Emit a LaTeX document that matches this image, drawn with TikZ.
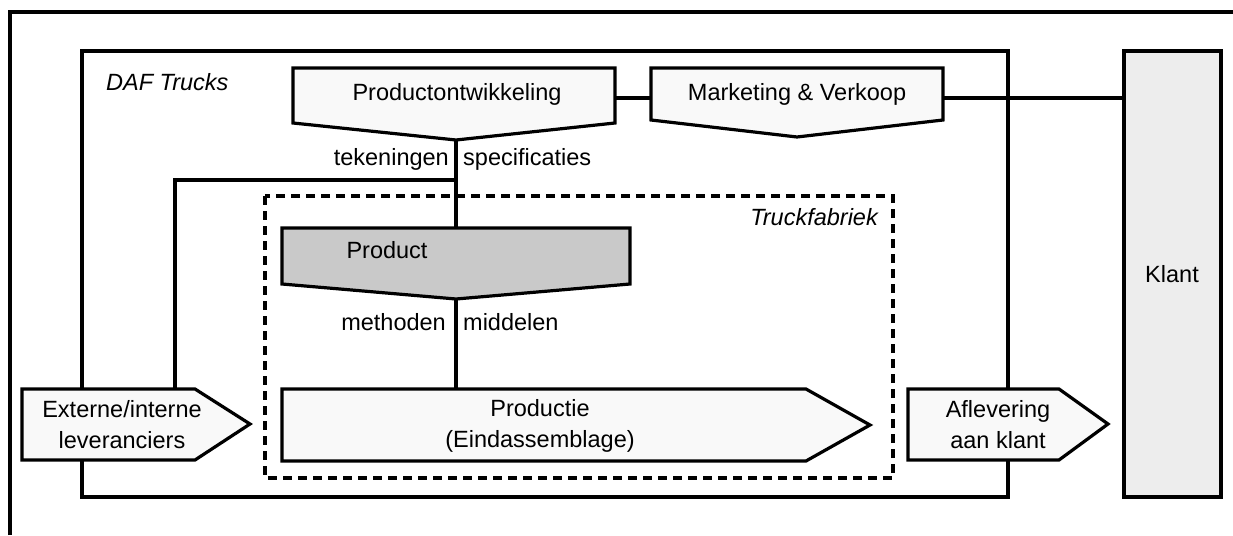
\documentclass[tikz,border=0pt]{standalone}
\usepackage{fontspec}
\setmainfont{Liberation Sans}
\begin{document}
\begin{tikzpicture}[x=1pt,y=-1pt,
  thick line/.style={line width=3.2pt},
  boxline/.style={line width=3.2pt, line join=miter},
  lightfill/.style={boxline, fill=gray!5},
  darkfill/.style={boxline, fill=gray!42},
  klantfill/.style={boxline, fill=gray!14},
  zone/.style={line width=3.2pt, dash pattern=on 9pt off 6pt},
  txt/.style={font=\fontsize{23.5}{31}\selectfont, inner sep=0pt, align=center},
  itxt/.style={txt, font=\fontsize{23.5}{31}\selectfont\itshape}]
\useasboundingbox (0,0) rectangle (1233,535);

% outer frame (top and left edge)
\draw[thick line] (10,535) -- (10,12) -- (1233,12);

% DAF Trucks company boundary
\draw[boxline] (82,51) rectangle (1008,497);
\node[itxt, anchor=base west] (daf) at (106,90) {DAF Trucks};

% factory boundary
\draw[zone] (265,196) rectangle (893,478);
\node[itxt, anchor=base east] (fab) at (878,225) {Truckfabriek};

% named anchor points of the shapes
\coordinate (po-tip) at (456,140);
\coordinate (po-r) at (615,98);
\coordinate (mv-l) at (651,98);
\coordinate (mv-r) at (943,98);
\coordinate (kl-l) at (1124,98);
\coordinate (pr-top) at (456,228);
\coordinate (pr-tip) at (456,299);
\coordinate (pd-top) at (456,389);
\coordinate (ext-top) at (175,389);
\coordinate (split) at (456,180);
\coordinate (bend) at (175,180);

% connectors
\draw[thick line] (po-r) -- (mv-l);
\draw[thick line] (mv-r) -- (kl-l);
\draw[thick line] (po-tip) -- (pr-top);
\draw[thick line] (split) -- (bend) -- (ext-top);
\draw[thick line] (pr-tip) -- (pd-top);

% Productontwikkeling
\draw[lightfill] (293,68) -- (615,68) -- (615,123) -- (po-tip) -- (293,123) -- cycle;
\node[txt, anchor=base] (po) at (457,100) {Productontwikkeling};

% Marketing & Verkoop
\draw[lightfill] (651,68) -- (943,68) -- (943,120) -- (797,137) -- (651,120) -- cycle;
\node[txt, anchor=base] (mv) at (797,100) {Marketing \& Verkoop};

% Product
\draw[darkfill] (282,228) -- (630,228) -- (630,284) -- (pr-tip) -- (282,284) -- cycle;
\node[txt, anchor=base] (pr) at (387,258) {Product};

% Productie
\draw[lightfill] (282,389) -- (806,389) -- (870,425) -- (806,461) -- (282,461) -- cycle;
\node[txt] (pd) at (540,426) {Productie\\(Eindassemblage)};

% Externe/interne leveranciers
\draw[lightfill] (22,389) -- (195,389) -- (250,424) -- (195,460) -- (22,460) -- cycle;
\node[txt] (ext) at (122,425) {Externe/interne\\leveranciers};

% Aflevering aan klant
\draw[lightfill] (908,389) -- (1059,389) -- (1108,424) -- (1059,460) -- (908,460) -- cycle;
\node[txt] (afl) at (998,425) {Aflevering\\aan klant};

% Klant
\draw[klantfill] (1124,51) rectangle (1221,497);
\node[txt] (klant) at (1172,274) {Klant};

% flow labels
\node[txt, anchor=base east] (tek) at (449,165) {tekeningen};
\node[txt, anchor=base west] (spec) at (463,165) {specificaties};
\node[txt, anchor=base east] (meth) at (446,330) {methoden};
\node[txt, anchor=base west] (midd) at (463,330) {middelen};
\end{tikzpicture}
\end{document}
